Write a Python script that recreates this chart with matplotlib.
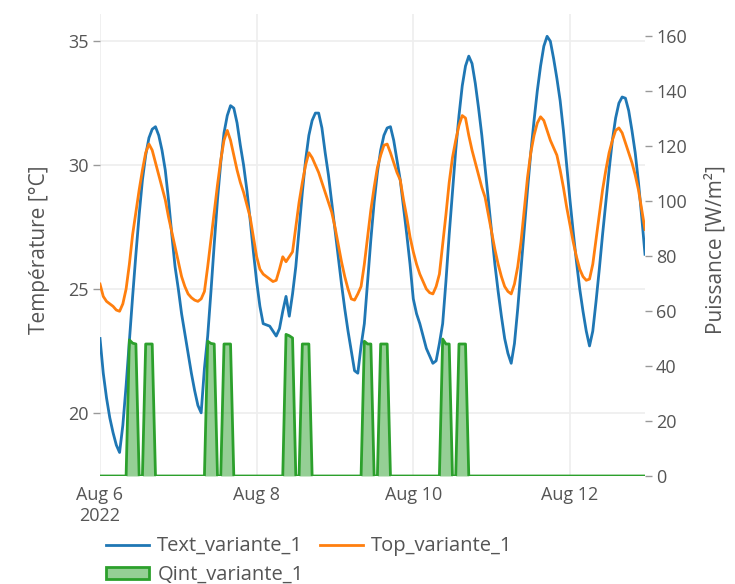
import matplotlib
matplotlib.use("Agg")
import matplotlib.pyplot as plt
import pandas as pd
from matplotlib.lines import Line2D
from matplotlib.patches import Patch

plt.rcParams["font.family"] = ["Open Sans", "DejaVu Sans"]

times = pd.date_range("2022-08-06 00:00", periods=168, freq="h")

text_variante_1 = [
    23.0, 21.6, 20.6, 19.8, 19.2, 18.7, 18.4, 19.5, 21.1, 22.9, 24.7, 26.4,
    28.0, 29.4, 30.4, 31.1, 31.45, 31.55, 31.2, 30.6, 29.8, 28.6, 27.2, 25.9,
    25.0, 24.0, 23.2, 22.4, 21.6, 20.9, 20.3, 20.0, 21.8, 23.1, 24.9, 26.8,
    28.6, 30.1, 31.3, 32.0, 32.4, 32.3, 31.7, 30.8, 30.0, 29.0, 27.8, 26.5,
    25.3, 24.3, 23.6, 23.55, 23.5, 23.3, 23.1, 23.4, 24.1, 24.7, 23.9, 24.8,
    25.9, 27.4, 28.9, 30.2, 31.2, 31.8, 32.1, 32.1, 31.5, 30.5, 29.6, 28.5,
    27.4, 26.3, 25.2, 24.2, 23.3, 22.5, 21.7, 21.6, 22.7, 23.6, 25.3, 27.0,
    28.5, 29.7, 30.6, 31.2, 31.5, 31.55, 31.0, 30.2, 29.4, 28.3, 27.2, 26.0,
    24.6, 24.0, 23.6, 23.1, 22.6, 22.3, 22.0, 22.1, 22.8, 23.6, 25.3, 27.2,
    28.9, 30.6, 32.0, 33.2, 34.0, 34.4, 34.1, 33.3, 32.3, 31.2, 29.9, 28.6,
    27.3, 26.0, 24.9, 23.9, 23.0, 22.4, 22.0, 22.8, 24.2, 25.8, 27.4, 29.0,
    30.5, 31.8, 33.0, 34.0, 34.8, 35.2, 35.0, 34.3, 33.5, 32.6, 31.4, 30.0,
    28.6, 27.3, 26.1, 25.0, 24.1, 23.3, 22.7, 23.3, 24.5, 25.8, 27.2, 28.5,
    29.8, 31.0, 31.9, 32.5, 32.75, 32.7, 32.2, 31.4, 30.5, 29.3, 27.9, 26.4,
]

top_variante_1 = [
    25.2, 24.7, 24.5, 24.4, 24.3, 24.15, 24.1, 24.4, 25.0, 26.0, 27.2, 28.1,
    29.0, 29.8, 30.5, 30.85, 30.6, 30.1, 29.6, 29.1, 28.6, 27.9, 27.3, 26.7,
    26.1, 25.5, 25.1, 24.8, 24.65, 24.55, 24.5, 24.6, 24.9, 25.9, 27.0, 28.1,
    29.2, 30.2, 31.0, 31.4, 31.0, 30.4, 29.8, 29.3, 28.9, 28.4, 27.9, 27.1,
    26.3, 25.8, 25.6, 25.5, 25.4, 25.3, 25.35, 25.8, 26.3, 26.1, 26.3, 26.5,
    27.5, 28.5, 29.3, 30.0, 30.5, 30.3, 30.0, 29.7, 29.3, 28.9, 28.5, 28.1,
    27.5, 26.8, 26.1, 25.5, 25.0, 24.6, 24.55, 24.8, 25.1, 26.0, 27.1, 28.2,
    29.1, 29.9, 30.4, 30.8, 30.85, 30.5, 30.1, 29.7, 29.4, 28.6, 27.9, 27.1,
    26.5, 26.0, 25.6, 25.3, 25.0, 24.85, 24.8, 25.1, 25.6, 26.8, 28.0, 29.3,
    30.3, 31.0, 31.6, 32.0, 31.9, 31.2, 30.6, 30.1, 29.6, 29.1, 28.7, 28.0,
    27.3, 26.6, 26.0, 25.5, 25.1, 24.9, 24.8, 25.2, 25.9, 26.9, 28.2, 29.5,
    30.5, 31.2, 31.7, 31.95, 31.8, 31.4, 31.0, 30.7, 30.4, 29.8, 29.1, 28.3,
    27.6, 26.9, 26.3, 25.8, 25.5, 25.35, 25.4, 26.0, 27.0, 28.0, 29.0, 29.8,
    30.5, 31.0, 31.4, 31.5, 31.3, 30.9, 30.5, 30.1, 29.6, 29.0, 28.2, 27.4,
]

qint_variante_1 = [
    0, 0, 0, 0, 0, 0, 0, 0, 0, 49.5, 48.3, 48.0,
    0, 0, 48.0, 48.0, 48.0, 0, 0, 0, 0, 0, 0, 0,
    0, 0, 0, 0, 0, 0, 0, 0, 0, 49.0, 48.2, 48.0,
    0, 0, 48.0, 48.0, 48.0, 0, 0, 0, 0, 0, 0, 0,
    0, 0, 0, 0, 0, 0, 0, 0, 0, 51.5, 51.0, 50.2,
    0, 0, 48.0, 48.0, 48.0, 0, 0, 0, 0, 0, 0, 0,
    0, 0, 0, 0, 0, 0, 0, 0, 0, 49.0, 48.0, 48.0,
    0, 0, 48.0, 48.0, 48.0, 0, 0, 0, 0, 0, 0, 0,
    0, 0, 0, 0, 0, 0, 0, 0, 0, 49.8, 48.0, 48.0,
    0, 0, 48.0, 48.0, 48.0, 0, 0, 0, 0, 0, 0, 0,
    0, 0, 0, 0, 0, 0, 0, 0, 0, 0, 0, 0,
    0, 0, 0, 0, 0, 0, 0, 0, 0, 0, 0, 0,
    0, 0, 0, 0, 0, 0, 0, 0, 0, 0, 0, 0,
    0, 0, 0, 0, 0, 0, 0, 0, 0, 0, 0, 0,
]

x_tick_dates = pd.to_datetime(["2022-08-06", "2022-08-08", "2022-08-10", "2022-08-12"])
x_tick_labels = ["Aug 6\n2022", "Aug 8", "Aug 10", "Aug 12"]
left_ticks = [20, 25, 30, 35]
right_ticks = [0, 20, 40, 60, 80, 100, 120, 140, 160]

BLUE, ORANGE, GREEN = "#1f77b4", "#ff7f0e", "#2ca02c"
TXT = "#555555"
GRID = "#eeeeee"

fig = plt.figure(figsize=(7.35, 5.84), dpi=100)
ax = fig.add_axes([100 / 735, 108 / 584, 545 / 735, 462 / 584])
ax2 = ax.twinx()

ax.plot(times, text_variante_1, color=BLUE, lw=2, zorder=3)
ax.plot(times, top_variante_1, color=ORANGE, lw=2, zorder=3)
ax2.fill_between(times, qint_variante_1, 0, color=GREEN, alpha=0.5, lw=0)
ax2.plot(times, qint_variante_1, color=GREEN, lw=2)

ax.set_xlim(times[0], times[-1])
ax.set_ylim(17.45, 36.1)
ax2.set_ylim(0, 168)

ax.set_xticks(x_tick_dates)
ax.set_xticklabels(x_tick_labels)
ax.set_yticks(left_ticks)
ax2.set_yticks(right_ticks)

for a in (ax, ax2):
    for s in a.spines.values():
        s.set_visible(False)

ax.grid(True, color=GRID, lw=1.2, zorder=0)
ax.set_axisbelow(True)
ax.tick_params(axis="x", length=0, pad=7, labelsize=13, labelcolor=TXT)
ax.tick_params(axis="y", direction="out", length=5, width=1, color="#999999",
               pad=3, labelsize=13, labelcolor=TXT)
ax2.tick_params(axis="y", direction="out", length=5, width=1, color="#999999",
                pad=3, labelsize=13, labelcolor=TXT)

ax.set_ylabel("Température [°C]", fontsize=15, color=TXT)
ax2.set_ylabel("Puissance [W/m²]", fontsize=15, color=TXT)
ax.yaxis.set_label_coords(-0.092, 0.49)
ax2.yaxis.set_label_coords(1.11, 0.49)

handles = [
    Line2D([0], [0], color=BLUE, lw=2),
    Patch(facecolor=(0.173, 0.627, 0.173, 0.5), edgecolor=GREEN, lw=2),
    Line2D([0], [0], color=ORANGE, lw=2),
]
labels = ["Text_variante_1", "Qint_variante_1", "Top_variante_1"]
leg = fig.legend(handles, labels, ncol=2, loc="upper left",
                 bbox_to_anchor=(106 / 735, 1 - 536 / 584), frameon=False,
                 fontsize=14.5, handlelength=2.15, handleheight=0.5,
                 handletextpad=0.4, columnspacing=0.8, labelspacing=0.45,
                 borderpad=0, borderaxespad=0)
for t in leg.get_texts():
    t.set_color(TXT)

fig.savefig("out.png", dpi=100)
